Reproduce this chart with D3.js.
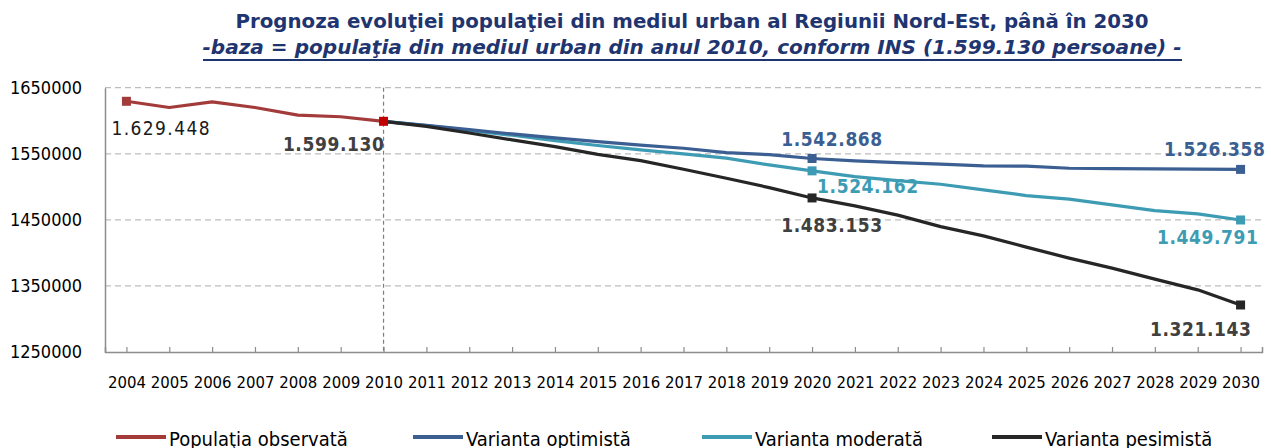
<!DOCTYPE html>
<html>
<head>
<meta charset="utf-8">
<script src="https://cdn.jsdelivr.net/npm/d3@7"></script>
<style>
  body { margin: 0; background: #fff; }
  svg { display: block; font-family: "DejaVu Sans Condensed", "DejaVu Sans", sans-serif; }
</style>
</head>
<body>
<div id="chart"></div>
<script>
(function() {

// years on the category axis
const years = d3.range(2004, 2031);
const yTicks = [1250000, 1350000, 1450000, 1550000, 1650000];

const observedYears = [2004, 2005, 2006, 2007, 2008, 2009, 2010];
const observed = [1629448, 1620000, 1628500, 1620000, 1608500, 1606000, 1599130];

const forecastYears = d3.range(2010, 2031);
const optimista = [1599130, 1593000, 1586500, 1580000, 1574000, 1568500, 1563000, 1558400, 1551700, 1548700, 1542868,
  1539200, 1536600, 1534200, 1531600, 1531200, 1528100, 1527600, 1527200, 1526800, 1526358];
const moderata = [1599130, 1592500, 1585500, 1578000, 1570000, 1562500, 1555800, 1549800, 1543300, 1533100, 1524162,
  1515400, 1509400, 1503900, 1495400, 1486700, 1481300, 1472600, 1464000, 1459000, 1449791];
const pesimista = [1599130, 1591500, 1581500, 1571000, 1560800, 1549000, 1539600, 1526600, 1513000, 1498800, 1483153,
  1471100, 1457100, 1439800, 1425800, 1408700, 1392100, 1376900, 1360300, 1344100, 1321143];

const markerYears = { obs: [2004, 2010], fc: [2020, 2030] };

const titleText = "Prognoza evoluţiei populaţiei din mediul urban al Regiunii Nord-Est, până în 2030";
const subtitleText = "-baza = populaţia din mediul urban din anul 2010, conform INS (1.599.130 persoane) -";

const W = 1271, H = 448;
const svg = d3.select("#chart").append("svg").attr("width", W).attr("height", H);

const x = d3.scalePoint().domain(years).range([105, 1262]).padding(0.5);
const y = d3.scaleLinear().domain([1250000, 1650000]).range([352, 87.7]);

const fmt = v => d3.format(",")(v).replace(/,/g, ".");

// title
svg.append("text")
  .attr("x", 692).attr("y", 28)
  .attr("text-anchor", "middle")
  .attr("font-size", 20).attr("font-weight", "bold")
  .attr("fill", "#1f3570")
  .attr("textLength", 913).attr("lengthAdjust", "spacingAndGlyphs")
  .text(titleText);
svg.append("text")
  .attr("x", 692).attr("y", 54)
  .attr("text-anchor", "middle")
  .attr("font-size", 20).attr("font-weight", "bold").attr("font-style", "italic")
  .attr("fill", "#1f3570")
  .attr("textLength", 979).attr("lengthAdjust", "spacingAndGlyphs")
  .text(subtitleText);
svg.append("line")
  .attr("x1", 203).attr("x2", 1182).attr("y1", 60).attr("y2", 60)
  .attr("stroke", "#1f3570").attr("stroke-width", 2);

// grid
svg.append("g").selectAll("line")
  .data(yTicks.slice(1))
  .enter().append("line")
  .attr("x1", 105).attr("x2", 1262)
  .attr("y1", d => y(d)).attr("y2", d => y(d))
  .attr("stroke", "#bdbdbd").attr("stroke-width", 1.3)
  .attr("stroke-dasharray", "6,4");

// y axis
const yAxis = svg.append("g")
  .attr("transform", "translate(105,0)")
  .call(d3.axisLeft(y).tickValues(yTicks).tickSize(0).tickPadding(23).tickFormat(d3.format("d")));
yAxis.select(".domain").attr("stroke", "#8c8c8c").attr("stroke-width", 1.5);
yAxis.selectAll("text").attr("font-size", 18).attr("fill", "#000")
  .attr("font-family", "DejaVu Sans Condensed, DejaVu Sans, sans-serif")
  .attr("textLength", 72).attr("lengthAdjust", "spacingAndGlyphs");

// x axis
const xAxis = svg.append("g")
  .attr("transform", "translate(0,352)")
  .call(d3.axisBottom(x).tickSizeInner(-5).tickSizeOuter(-5).tickPadding(24));
xAxis.select(".domain").attr("stroke", "#8c8c8c").attr("stroke-width", 1.5);
xAxis.selectAll(".tick line").attr("stroke", "#8c8c8c").attr("stroke-width", 1.2);
xAxis.selectAll("text").attr("font-size", 16.5).attr("fill", "#000")
  .attr("font-family", "DejaVu Sans Condensed, DejaVu Sans, sans-serif")
  .attr("textLength", 38).attr("lengthAdjust", "spacingAndGlyphs");

// 2010 divider
svg.append("line")
  .attr("x1", x(2010)).attr("x2", x(2010))
  .attr("y1", y(1650000)).attr("y2", y(1250000))
  .attr("stroke", "#7f7f7f").attr("stroke-width", 1.2)
  .attr("stroke-dasharray", "4,3");

const line = d3.line().x(d => x(d[0])).y(d => y(d[1]));

const series = [
  { name: "Varianta moderată", color: "#3d9cb4", yrs: forecastYears, vals: moderata, marks: markerYears.fc },
  { name: "Varianta optimistă", color: "#3b5f92", yrs: forecastYears, vals: optimista, marks: markerYears.fc },
  { name: "Varianta pesimistă", color: "#262626", yrs: forecastYears, vals: pesimista, marks: markerYears.fc },
  { name: "Populaţia observată", color: "#a33b3b", yrs: observedYears, vals: observed, marks: markerYears.obs }
];

series.forEach(function(s) {
  const pts = s.yrs.map((yr, i) => [yr, s.vals[i]]);
  svg.append("path")
    .attr("d", line(pts))
    .attr("fill", "none")
    .attr("stroke", s.color)
    .attr("stroke-width", 3.2)
    .attr("stroke-linejoin", "round");
  svg.append("g").selectAll("rect")
    .data(pts.filter(p => s.marks.includes(p[0])))
    .enter().append("rect")
    .attr("x", d => x(d[0]) - 4.5).attr("y", d => y(d[1]) - 4.5)
    .attr("width", 9).attr("height", 9)
    // the 2010 base point is drawn in a brighter red
    .attr("fill", d => (d[0] === 2010 && s.yrs === observedYears) ? "#c00000" : s.color);
});

// data labels
const labels = [
  { v: observed[0], yr: 2004, dx: -15, dy: 34, anchor: "start", color: "#1a1a1a", w: "normal" },
  { v: observed[6], yr: 2010, dx: 1, dy: 30, anchor: "end", color: "#404040", w: "bold" },
  { v: optimista[10], yr: 2020, dx: 20, dy: -12, anchor: "middle", color: "#3b5f92", w: "bold" },
  { v: optimista[20], yr: 2030, dx: 25, dy: -13, anchor: "end", color: "#3b5f92", w: "bold" },
  { v: moderata[10], yr: 2020, dx: 5, dy: 22, anchor: "start", color: "#3d9cb4", w: "bold" },
  { v: moderata[20], yr: 2030, dx: 18, dy: 24, anchor: "end", color: "#3d9cb4", w: "bold" },
  { v: pesimista[10], yr: 2020, dx: 20, dy: 34, anchor: "middle", color: "#404040", w: "bold" },
  { v: pesimista[20], yr: 2030, dx: 11, dy: 31, anchor: "end", color: "#404040", w: "bold" }
];

svg.append("g").selectAll("text")
  .data(labels)
  .enter().append("text")
  .attr("x", d => x(d.yr) + d.dx)
  .attr("y", d => y(d.v) + d.dy)
  .attr("text-anchor", d => d.anchor)
  .attr("font-size", 19)
  .attr("font-weight", d => d.w)
  .attr("letter-spacing", d => d.w === "bold" ? 0.6 : 1.4)
  .attr("fill", d => d.color)
  .text(d => fmt(d.v));

// legend
const legendX = [116, 413, 702, 992];
const legendOrder = [3, 1, 0, 2];
const lg = svg.append("g").selectAll("g")
  .data(legendOrder.map(i => series[i]))
  .enter().append("g")
  .attr("transform", (d, i) => "translate(" + legendX[i] + ",437)");
lg.append("line")
  .attr("x1", 0).attr("x2", 50)
  .attr("stroke", d => d.color).attr("stroke-width", 4);
lg.append("text")
  .attr("x", 53).attr("y", 9)
  .attr("font-size", 20)
  .attr("fill", "#000")
  .text(d => d.name);

})();
</script>
</body>
</html>
